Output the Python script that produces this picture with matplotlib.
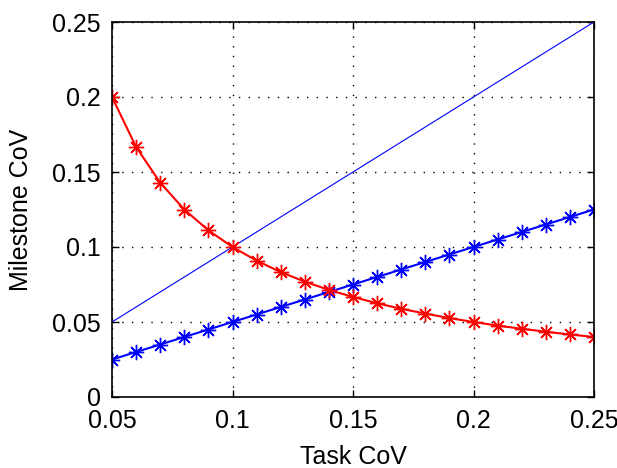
import matplotlib
matplotlib.use("Agg")
import matplotlib.pyplot as plt

task_cov = [0.05, 0.06, 0.07, 0.08, 0.09, 0.10, 0.11, 0.12, 0.13, 0.14, 0.15,
            0.16, 0.17, 0.18, 0.19, 0.20, 0.21, 0.22, 0.23, 0.24, 0.25]
red_vals = [0.2, 0.1667, 0.1429, 0.125, 0.1111, 0.1, 0.0909, 0.0833, 0.0769, 0.0714, 0.0667,
            0.0625, 0.0588, 0.0556, 0.0526, 0.05, 0.0476, 0.0455, 0.0435, 0.0417, 0.04]
blue_star_vals = [0.025, 0.03, 0.035, 0.04, 0.045, 0.05, 0.055, 0.06, 0.065, 0.07, 0.075,
                  0.08, 0.085, 0.09, 0.095, 0.1, 0.105, 0.11, 0.115, 0.12, 0.125]
blue_line_vals = [0.05, 0.06, 0.07, 0.08, 0.09, 0.10, 0.11, 0.12, 0.13, 0.14, 0.15,
                  0.16, 0.17, 0.18, 0.19, 0.20, 0.21, 0.22, 0.23, 0.24, 0.25]
xticks = [0.05, 0.1, 0.15, 0.2, 0.25]
xticklabels = ["0.05", "0.1", "0.15", "0.2", "0.25"]
yticks = [0, 0.05, 0.1, 0.15, 0.2, 0.25]
yticklabels = ["0", "0.05", "0.1", "0.15", "0.2", "0.25"]

plt.rcParams['font.family'] = ['Liberation Sans', 'DejaVu Sans']

fig = plt.figure(figsize=(6.17, 4.68), dpi=100)
W, H = 617, 468
ax = fig.add_axes([112 / W, 1 - 397 / H, (594 - 112) / W, (397 - 22) / H])

star = (8, 2, 0)
ax.plot(task_cov, blue_line_vals, color='#0000ff', lw=0.8)
ax.plot(task_cov, blue_star_vals, color='#0000ff', lw=1.5, marker=star, ms=11, mew=1.0)
ax.plot(task_cov, red_vals, color='#ff0000', lw=1.5, marker=star, ms=11, mew=1.0)

ax.set_xlim(0.05, 0.25)
ax.set_ylim(0, 0.25)
ax.set_xticks(xticks)
ax.set_xticklabels(xticklabels)
ax.set_yticks(yticks)
ax.set_yticklabels(yticklabels)
ax.tick_params(direction='in', labelsize=18, length=5, width=1, top=True, right=True)
ax.tick_params(axis='x', pad=9)
ax.tick_params(axis='y', pad=8)
ax.grid(True, color='black', linestyle=(0, (1, 6)), lw=1)
for s in ax.spines.values():
    s.set_linewidth(1.2)
ax.set_xlabel('Task CoV', fontsize=18, labelpad=8)
ax.set_ylabel('Milestone CoV', fontsize=18, labelpad=14)

fig.savefig('out.png', dpi=100)
